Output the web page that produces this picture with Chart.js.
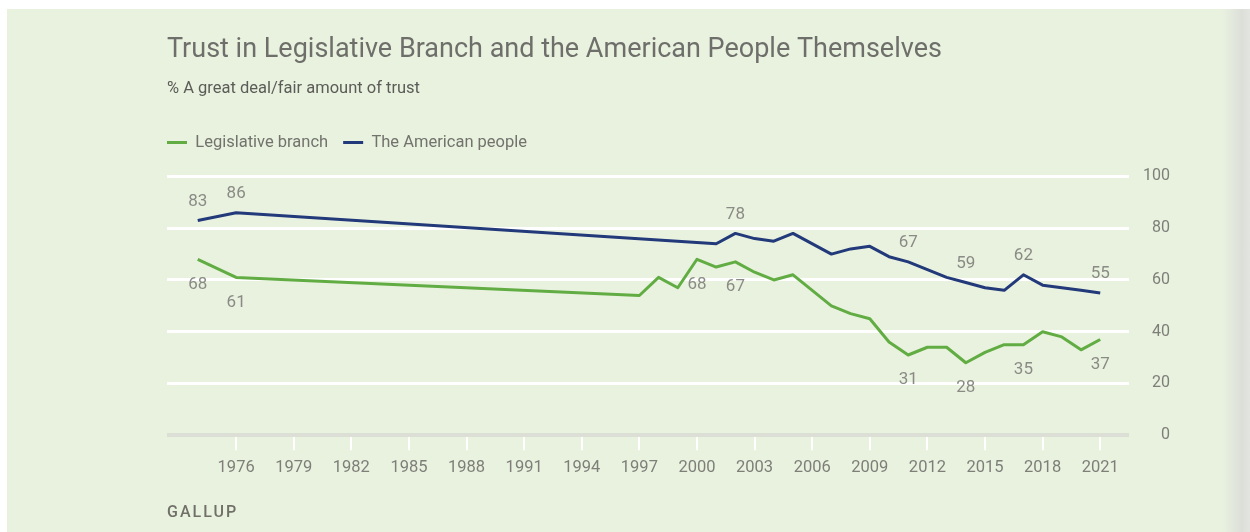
<!DOCTYPE html>
<html>
<head>
<meta charset="utf-8">
<script src="https://cdn.jsdelivr.net/npm/chart.js@4.4.1/dist/chart.umd.min.js"></script>
<style>
  html, body { margin: 0; padding: 0; background: #ffffff; width: 1250px; height: 532px; overflow: hidden; }
  #panel { position: absolute; left: 7px; top: 9px; width: 1218px; height: 523px; background: #e9f2df; }
  #shadow { position: absolute; left: 1222px; top: 9px; width: 28px; height: 523px;
            background: linear-gradient(to right, #e9f2df 0%, #e1e6dc 45%, #dcdfd8 70%, #e3e6e0 100%); }
  #wrap { position: absolute; left: 0; top: 0; width: 1250px; height: 532px; }
  #source { position: absolute; left: 167px; top: 502px; font: 500 16px Roboto, sans-serif; letter-spacing: 2px; color: #707069; }
</style>
</head>
<body>
<div id="panel"></div>
<div id="shadow"></div>
<div id="wrap"><canvas id="c" width="1250" height="532"></canvas></div>
<div id="source">GALLUP</div>
<script>
// ---- data ----
const legislativeYears = [1974,1976,1997,1998,1999,2000,2001,2002,2003,2004,2005,2007,2008,2009,2010,2011,2012,2013,2014,2015,2016,2017,2018,2019,2020,2021];
const legislativeValues = [68,61,54,61,57,68,65,67,63,60,62,50,47,45,36,31,34,34,28,32,35,35,40,38,33,37];
const peopleYears = [1974,1976,2001,2002,2003,2004,2005,2007,2008,2009,2010,2011,2012,2013,2014,2015,2016,2017,2018,2019,2020,2021];
const peopleValues = [83,86,74,78,76,75,78,70,72,73,69,67,64,61,59,57,56,62,58,57,56,55];
const legislativeLabelYears = [1974,1976,2000,2002,2011,2014,2017,2021];
const peopleLabelYears = [1974,1976,2002,2011,2014,2017,2021];
const xTickYears = [1976,1979,1982,1985,1988,1991,1994,1997,2000,2003,2006,2009,2012,2015,2018,2021];
const yTickValues = [0,20,40,60,80,100];
const seriesNames = ['Legislative branch','The American people'];
const titleText = 'Trust in Legislative Branch and the American People Themselves';
const subtitleText = '% A great deal/fair amount of trust';

const FONT = 'Roboto, "Liberation Sans", sans-serif';
const GREEN = '#62ad43';
const BLUE = '#22397a';

function pts(xs, ys) { return xs.map((x, i) => ({x: x, y: ys[i]})); }

const valueLabels = {
  id: 'valueLabels',
  afterDatasetsDraw(chart) {
    const ctx = chart.ctx;
    ctx.save();
    ctx.font = '17px ' + FONT;
    ctx.fillStyle = '#8a8b85';
    ctx.textAlign = 'center';
    ctx.textBaseline = 'middle';
    chart.data.datasets.forEach((ds, di) => {
      const meta = chart.getDatasetMeta(di);
      ds.data.forEach((p, i) => {
        if (ds.labelYears.indexOf(p.x) === -1) return;
        const el = meta.data[i];
        const dy = ds.labelSide === 'above' ? -19 : 25;
        ctx.fillText(String(p.y), el.x, el.y + dy);
      });
    });
    ctx.restore();
  }
};

new Chart(document.getElementById('c'), {
  type: 'line',
  data: {
    datasets: [
      { label: seriesNames[0], data: pts(legislativeYears, legislativeValues), borderColor: GREEN, backgroundColor: GREEN,
        borderWidth: 3, pointRadius: 0, tension: 0, borderJoinStyle: 'round', yAxisID: 'y',
        labelYears: legislativeLabelYears, labelSide: 'below' },
      { label: seriesNames[1], data: pts(peopleYears, peopleValues), borderColor: BLUE, backgroundColor: BLUE,
        borderWidth: 3, pointRadius: 0, tension: 0, borderJoinStyle: 'round', yAxisID: 'y',
        labelYears: peopleLabelYears, labelSide: 'above' }
    ]
  },
  options: {
    responsive: false,
    animation: false,
    events: [],
    layout: { padding: { left: 152, right: 80, top: 0, bottom: 46 } },
    plugins: {
      title: { display: true, text: titleText, align: 'start', fullSize: false, color: '#6e6f6a',
               font: { family: FONT, size: 27, weight: 'normal' }, padding: { top: 34, bottom: 0 } },
      subtitle: { display: true, text: subtitleText, align: 'start', fullSize: false, color: '#5b5c57',
               font: { family: FONT, size: 16.5, weight: 'normal' }, padding: { top: 13, bottom: 20 } },
      legend: { display: true, position: 'top', align: 'start', fullSize: true,
                labels: { usePointStyle: true, pointStyle: 'line', pointStyleWidth: 20, padding: 15,
                          color: '#72736d', font: { family: FONT, size: 16.5 } } },
      tooltip: { enabled: false }
    },
    scales: {
      x: {
        type: 'linear', min: 1972.4, max: 2022.5,
        afterBuildTicks: (s) => { s.ticks = xTickYears.map(v => ({ value: v })); },
        grid: { drawOnChartArea: false, drawTicks: true, tickLength: 15, color: '#ffffff', lineWidth: 2 },
        border: { display: false },
        ticks: { color: '#7e7f79', padding: 8, maxRotation: 0, autoSkip: false,
                 font: { family: FONT, size: 16.5 }, callback: (v) => String(v) }
      },
      y: {
        position: 'right', min: 0, max: 106.1,
        afterBuildTicks: (s) => { s.ticks = yTickValues.map(v => ({ value: v })); },
        grid: { drawTicks: false, lineWidth: (c) => c.tick && c.tick.value === 0 ? 4 : 3,
                color: (c) => c.tick && c.tick.value === 0 ? '#dcdfd6' : '#ffffff' },
        border: { display: false },
        ticks: { color: '#7e7f79', padding: 7, crossAlign: 'far', font: { family: FONT, size: 16 } }
      },
      yl: {
        position: 'left', min: 0, max: 106.1, display: true,
        grid: { display: false, drawTicks: false }, border: { display: false },
        ticks: { display: false },
        afterFit: (s) => { s.width = 15; }
      }
    }
  },
  plugins: [valueLabels]
});
</script>
</body>
</html>
